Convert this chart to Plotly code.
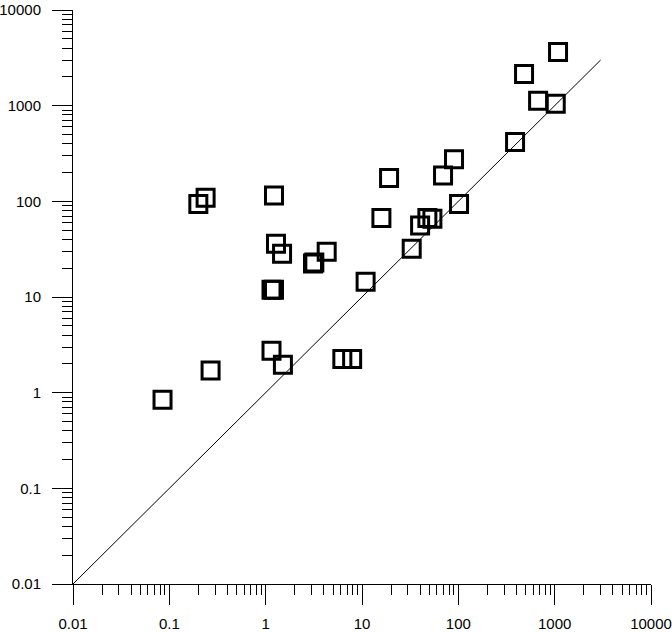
import plotly.graph_objects as go

x_vals = [0.085, 0.268, 0.20, 0.238, 1.22, 1.28, 1.48, 3.1, 3.2, 4.3,
          1.15, 1.22, 1.15, 1.51, 6.25, 7.9, 10.9, 15.9, 19.1, 32.8,
          40.1, 47.7, 53.8, 69.4, 90.2, 101.7, 1084, 481, 673, 1026, 388]
y_vals = [0.845, 1.70, 94, 109, 115, 36, 28.3, 22.4, 23.0, 29.7,
          11.9, 11.9, 2.75, 1.96, 2.25, 2.25, 14.4, 67, 175, 32,
          56, 67, 65.8, 186, 276, 94, 3630, 2140, 1125, 1048, 417]

line_x = [0.01, 3000]
line_y = [0.01, 3000]

tick_vals = [0.01, 0.1, 1, 10, 100, 1000, 10000]
tick_text = ["0.01", "0.1", "1", "10", "100", "1000", "10000"]

AXIS_STYLE = dict(
    type="log",
    range=[-2, 4],
    automargin=False,
    showgrid=False,
    zeroline=False,
    showline=True,
    linecolor="black",
    linewidth=1,
    ticks="outside",
    ticklen=20,
    tickwidth=1,
    tickcolor="black",
    tickvals=tick_vals,
    ticktext=tick_text,
    tickfont=dict(family="Liberation Sans, Arial", size=15, color="black"),
    minor=dict(ticks="outside", ticklen=10, tickwidth=1, tickcolor="black", dtick="D1", showgrid=False),
)

fig = go.Figure()
fig.add_trace(go.Scatter(
    x=line_x, y=line_y, mode="lines",
    line=dict(color="black", width=1),
    showlegend=False, hoverinfo="skip",
))
fig.add_trace(go.Scatter(
    x=x_vals, y=y_vals, mode="markers",
    marker=dict(symbol="square-open", size=17, color="black", line=dict(width=3, color="black")),
    showlegend=False,
))

fig.update_layout(
    width=672, height=632,
    plot_bgcolor="white", paper_bgcolor="white",
    margin=dict(l=73, r=21, t=10, b=48),
    xaxis=dict(**AXIS_STYLE, ticklabelstandoff=6),
    yaxis=dict(**AXIS_STYLE, ticklabelstandoff=8),
)

# page body has a default 8px margin; drop it so the figure sits at the window origin
fig.write_html(
    "out.html",
    config={"displayModeBar": False},
    post_script="document.body.style.margin='0';",
)
